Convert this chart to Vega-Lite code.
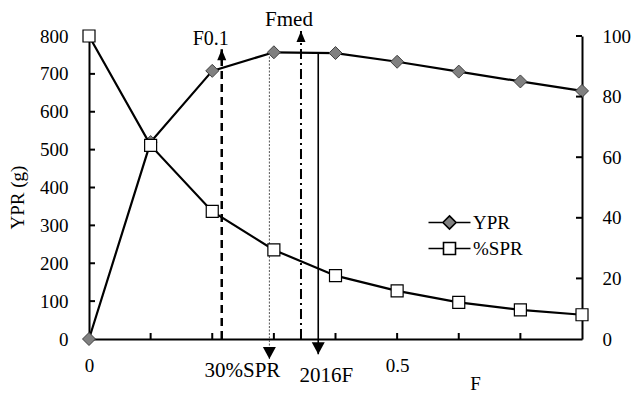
{
  "$schema": "https://vega.github.io/schema/vega-lite/v6.json",
  "width": 493,
  "height": 303,
  "autosize": "none",
  "padding": {"left": 89, "top": 36, "right": 53, "bottom": 55},
  "background": "white",
  "config": {
    "view": {"stroke": null},
    "font": "Liberation Serif",
    "axis": {
      "labelFont": "Liberation Serif",
      "titleFont": "Liberation Serif",
      "labelColor": "black",
      "titleColor": "black",
      "domainColor": "black",
      "tickColor": "black",
      "grid": false,
      "domainWidth": 2,
      "labelFontSize": 19,
      "titleFontSize": 19,
      "titleFontWeight": "normal"
    },
    "legend": {
      "orient": "none",
      "padding": 0,
      "labelFont": "Liberation Serif",
      "labelFontSize": 19,
      "labelColor": "black",
      "symbolSize": 144,
      "symbolStrokeColor": "black",
      "symbolStrokeWidth": 1.6,
      "labelOffset": 14
    }
  },
  "datasets": {
    "curves": [
      {"F": 0.0, "series": "YPR", "value": 0},
      {"F": 0.1, "series": "YPR", "value": 520},
      {"F": 0.2, "series": "YPR", "value": 708},
      {"F": 0.3, "series": "YPR", "value": 757},
      {"F": 0.4, "series": "YPR", "value": 755},
      {"F": 0.5, "series": "YPR", "value": 732},
      {"F": 0.6, "series": "YPR", "value": 706},
      {"F": 0.7, "series": "YPR", "value": 680},
      {"F": 0.8, "series": "YPR", "value": 655},
      {"F": 0.0, "series": "%SPR", "value": 100},
      {"F": 0.1, "series": "%SPR", "value": 63.9},
      {"F": 0.2, "series": "%SPR", "value": 42.1},
      {"F": 0.3, "series": "%SPR", "value": 29.4},
      {"F": 0.4, "series": "%SPR", "value": 20.9},
      {"F": 0.5, "series": "%SPR", "value": 15.9},
      {"F": 0.6, "series": "%SPR", "value": 12.1},
      {"F": 0.7, "series": "%SPR", "value": 9.6},
      {"F": 0.8, "series": "%SPR", "value": 8.0}
    ],
    "refs": [
      {"name": "F0.1", "F": 0.2154, "from": 0, "to": 765},
      {"name": "30%SPR", "F": 0.2927, "from": 755, "to": -53},
      {"name": "Fmed", "F": 0.344, "from": 0, "to": 813},
      {"name": "2016F", "F": 0.372, "from": 756, "to": -40}
    ],
    "xticks": [{"F": 0.1}, {"F": 0.2}, {"F": 0.3}, {"F": 0.4}, {"F": 0.5}, {"F": 0.6}, {"F": 0.7}],
    "lticks": [{"v": 100}, {"v": 200}, {"v": 300}, {"v": 400}, {"v": 500}, {"v": 600}, {"v": 700}, {"v": 800}],
    "rticks": [{"v": 20}, {"v": 40}, {"v": 60}, {"v": 80}, {"v": 100}]
  },
  "layer": [
    {
      "data": {"name": "curves"},
      "transform": [{"filter": "datum.series === 'YPR'"}],
      "layer": [
        {
          "mark": {"type": "line", "color": "black", "strokeWidth": 2.2},
          "encoding": {
            "x": {"field": "F", "type": "quantitative", "scale": {"domain": [0, 0.8], "nice": false},
              "axis": {"orient": "bottom", "values": [0, 0.5], "format": "~g", "ticks": false, "labelPadding": 17, "labelFlush": false, "labelOverlap": false, "title": "F", "titleX": 386, "titleY": 44, "titleBaseline": "middle", "titleAlign": "center"}},
            "y": {"field": "value", "type": "quantitative", "scale": {"domain": [0, 800], "nice": false},
              "axis": {"orient": "left", "values": [0, 100, 200, 300, 400, 500, 600, 700, 800], "tickCount": 9, "ticks": false, "labelPadding": 21, "labelFlush": false, "labelOverlap": false, "title": "YPR (g)", "titleX": -72, "titleY": 161, "titleAngle": -90, "titleBaseline": "middle", "titleAlign": "center"}}
          }
        },
        {
          "mark": {"type": "point", "shape": "diamond", "filled": true, "size": 169, "stroke": "#404040", "strokeWidth": 1, "opacity": 1},
          "encoding": {
            "x": {"field": "F", "type": "quantitative", "scale": {"domain": [0, 0.8], "nice": false},
              "axis": {"orient": "bottom", "values": [0, 0.5], "format": "~g", "ticks": false, "labelPadding": 17, "labelFlush": false, "labelOverlap": false, "title": "F", "titleX": 386, "titleY": 44, "titleBaseline": "middle", "titleAlign": "center"}},
            "y": {"field": "value", "type": "quantitative", "scale": {"domain": [0, 800], "nice": false},
              "axis": {"orient": "left", "values": [0, 100, 200, 300, 400, 500, 600, 700, 800], "tickCount": 9, "ticks": false, "labelPadding": 21, "labelFlush": false, "labelOverlap": false, "title": "YPR (g)", "titleX": -72, "titleY": 161, "titleAngle": -90, "titleBaseline": "middle", "titleAlign": "center"}},
            "fill": {
              "field": "series", "type": "nominal",
              "scale": {"domain": ["YPR"], "range": ["#808080"]},
              "legend": {"title": null, "symbolType": "M-3.5,0H-1.1M1.1,0H3.5M0,-1.1L1.1,0L0,1.1L-1.1,0Z", "legendX": 351, "legendY": 177}
            }
          }
        },
        {
          "data": {"name": "xticks"},
          "mark": {"type": "point", "filled": true, "color": "black", "opacity": 1, "size": 4, "shape": "M-1,0H1V-6H-1Z"},
          "encoding": {
            "x": {"field": "F", "type": "quantitative", "scale": {"domain": [0, 0.8], "nice": false},
              "axis": {"orient": "bottom", "values": [0, 0.5], "format": "~g", "ticks": false, "labelPadding": 17, "labelFlush": false, "labelOverlap": false, "title": "F", "titleX": 386, "titleY": 44, "titleBaseline": "middle", "titleAlign": "center"}},
            "y": {"datum": 0, "type": "quantitative", "scale": {"domain": [0, 800], "nice": false},
              "axis": {"orient": "left", "values": [0, 100, 200, 300, 400, 500, 600, 700, 800], "tickCount": 9, "ticks": false, "labelPadding": 21, "labelFlush": false, "labelOverlap": false, "title": "YPR (g)", "titleX": -72, "titleY": 161, "titleAngle": -90, "titleBaseline": "middle", "titleAlign": "center"}}
          }
        },
        {
          "data": {"name": "lticks"},
          "mark": {"type": "point", "filled": true, "color": "black", "opacity": 1, "size": 4, "shape": "M0,-1H6V1H0Z"},
          "encoding": {
            "x": {"datum": 0, "type": "quantitative", "scale": {"domain": [0, 0.8], "nice": false},
              "axis": {"orient": "bottom", "values": [0, 0.5], "format": "~g", "ticks": false, "labelPadding": 17, "labelFlush": false, "labelOverlap": false, "title": "F", "titleX": 386, "titleY": 44, "titleBaseline": "middle", "titleAlign": "center"}},
            "y": {"field": "v", "type": "quantitative", "scale": {"domain": [0, 800], "nice": false},
              "axis": {"orient": "left", "values": [0, 100, 200, 300, 400, 500, 600, 700, 800], "tickCount": 9, "ticks": false, "labelPadding": 21, "labelFlush": false, "labelOverlap": false, "title": "YPR (g)", "titleX": -72, "titleY": 161, "titleAngle": -90, "titleBaseline": "middle", "titleAlign": "center"}}
          }
        },
        {
          "data": {"name": "refs"},
          "transform": [{"filter": "datum.name === 'F0.1'"}],
          "mark": {"type": "rule", "color": "black", "strokeWidth": 2.5, "strokeDash": [8, 5]},
          "encoding": {
            "x": {"field": "F", "type": "quantitative", "scale": {"domain": [0, 0.8], "nice": false},
              "axis": {"orient": "bottom", "values": [0, 0.5], "format": "~g", "ticks": false, "labelPadding": 17, "labelFlush": false, "labelOverlap": false, "title": "F", "titleX": 386, "titleY": 44, "titleBaseline": "middle", "titleAlign": "center"}},
            "y": {"field": "from", "type": "quantitative", "scale": {"domain": [0, 800], "nice": false},
              "axis": {"orient": "left", "values": [0, 100, 200, 300, 400, 500, 600, 700, 800], "tickCount": 9, "ticks": false, "labelPadding": 21, "labelFlush": false, "labelOverlap": false, "title": "YPR (g)", "titleX": -72, "titleY": 161, "titleAngle": -90, "titleBaseline": "middle", "titleAlign": "center"}},
            "y2": {"field": "to"}
          }
        },
        {
          "data": {"name": "refs"},
          "transform": [{"filter": "datum.name === '30%SPR'"}],
          "mark": {"type": "rule", "color": "#555555", "strokeWidth": 1, "strokeDash": [2, 1.5]},
          "encoding": {
            "x": {"field": "F", "type": "quantitative", "scale": {"domain": [0, 0.8], "nice": false},
              "axis": {"orient": "bottom", "values": [0, 0.5], "format": "~g", "ticks": false, "labelPadding": 17, "labelFlush": false, "labelOverlap": false, "title": "F", "titleX": 386, "titleY": 44, "titleBaseline": "middle", "titleAlign": "center"}},
            "y": {"field": "from", "type": "quantitative", "scale": {"domain": [0, 800], "nice": false},
              "axis": {"orient": "left", "values": [0, 100, 200, 300, 400, 500, 600, 700, 800], "tickCount": 9, "ticks": false, "labelPadding": 21, "labelFlush": false, "labelOverlap": false, "title": "YPR (g)", "titleX": -72, "titleY": 161, "titleAngle": -90, "titleBaseline": "middle", "titleAlign": "center"}},
            "y2": {"field": "to"}
          }
        },
        {
          "data": {"name": "refs"},
          "transform": [{"filter": "datum.name === 'Fmed'"}],
          "mark": {"type": "rule", "color": "black", "strokeWidth": 2, "strokeDash": [10, 4, 2, 4]},
          "encoding": {
            "x": {"field": "F", "type": "quantitative", "scale": {"domain": [0, 0.8], "nice": false},
              "axis": {"orient": "bottom", "values": [0, 0.5], "format": "~g", "ticks": false, "labelPadding": 17, "labelFlush": false, "labelOverlap": false, "title": "F", "titleX": 386, "titleY": 44, "titleBaseline": "middle", "titleAlign": "center"}},
            "y": {"field": "from", "type": "quantitative", "scale": {"domain": [0, 800], "nice": false},
              "axis": {"orient": "left", "values": [0, 100, 200, 300, 400, 500, 600, 700, 800], "tickCount": 9, "ticks": false, "labelPadding": 21, "labelFlush": false, "labelOverlap": false, "title": "YPR (g)", "titleX": -72, "titleY": 161, "titleAngle": -90, "titleBaseline": "middle", "titleAlign": "center"}},
            "y2": {"field": "to"}
          }
        },
        {
          "data": {"name": "refs"},
          "transform": [{"filter": "datum.name === '2016F'"}],
          "mark": {"type": "rule", "color": "black", "strokeWidth": 1.6},
          "encoding": {
            "x": {"field": "F", "type": "quantitative", "scale": {"domain": [0, 0.8], "nice": false},
              "axis": {"orient": "bottom", "values": [0, 0.5], "format": "~g", "ticks": false, "labelPadding": 17, "labelFlush": false, "labelOverlap": false, "title": "F", "titleX": 386, "titleY": 44, "titleBaseline": "middle", "titleAlign": "center"}},
            "y": {"field": "from", "type": "quantitative", "scale": {"domain": [0, 800], "nice": false},
              "axis": {"orient": "left", "values": [0, 100, 200, 300, 400, 500, 600, 700, 800], "tickCount": 9, "ticks": false, "labelPadding": 21, "labelFlush": false, "labelOverlap": false, "title": "YPR (g)", "titleX": -72, "titleY": 161, "titleAngle": -90, "titleBaseline": "middle", "titleAlign": "center"}},
            "y2": {"field": "to"}
          }
        },
        {
          "data": {"name": "refs"},
          "transform": [{"filter": "datum.name === 'F0.1' || datum.name === 'Fmed'"}],
          "mark": {"type": "point", "filled": true, "color": "black", "opacity": 1, "size": 4, "shape": "M0,0L4.5,11L-4.5,11Z"},
          "encoding": {
            "x": {"field": "F", "type": "quantitative", "scale": {"domain": [0, 0.8], "nice": false},
              "axis": {"orient": "bottom", "values": [0, 0.5], "format": "~g", "ticks": false, "labelPadding": 17, "labelFlush": false, "labelOverlap": false, "title": "F", "titleX": 386, "titleY": 44, "titleBaseline": "middle", "titleAlign": "center"}},
            "y": {"field": "to", "type": "quantitative", "scale": {"domain": [0, 800], "nice": false},
              "axis": {"orient": "left", "values": [0, 100, 200, 300, 400, 500, 600, 700, 800], "tickCount": 9, "ticks": false, "labelPadding": 21, "labelFlush": false, "labelOverlap": false, "title": "YPR (g)", "titleX": -72, "titleY": 161, "titleAngle": -90, "titleBaseline": "middle", "titleAlign": "center"}}
          }
        },
        {
          "data": {"name": "refs"},
          "transform": [{"filter": "datum.name === '30%SPR' || datum.name === '2016F'"}],
          "mark": {"type": "point", "filled": true, "color": "black", "opacity": 1, "size": 4, "shape": "M0,0L6.5,-12L-6.5,-12Z"},
          "encoding": {
            "x": {"field": "F", "type": "quantitative", "scale": {"domain": [0, 0.8], "nice": false},
              "axis": {"orient": "bottom", "values": [0, 0.5], "format": "~g", "ticks": false, "labelPadding": 17, "labelFlush": false, "labelOverlap": false, "title": "F", "titleX": 386, "titleY": 44, "titleBaseline": "middle", "titleAlign": "center"}},
            "y": {"field": "to", "type": "quantitative", "scale": {"domain": [0, 800], "nice": false},
              "axis": {"orient": "left", "values": [0, 100, 200, 300, 400, 500, 600, 700, 800], "tickCount": 9, "ticks": false, "labelPadding": 21, "labelFlush": false, "labelOverlap": false, "title": "YPR (g)", "titleX": -72, "titleY": 161, "titleAngle": -90, "titleBaseline": "middle", "titleAlign": "center"}}
          }
        },
        {
          "data": {"name": "refs"},
          "transform": [{"filter": "datum.name === 'F0.1'"}],
          "mark": {"type": "text", "font": "Liberation Serif", "fontSize": 20, "align": "center", "baseline": "alphabetic", "dx": -11, "dy": -4, "color": "black"},
          "encoding": {
            "x": {"field": "F", "type": "quantitative", "scale": {"domain": [0, 0.8], "nice": false},
              "axis": {"orient": "bottom", "values": [0, 0.5], "format": "~g", "ticks": false, "labelPadding": 17, "labelFlush": false, "labelOverlap": false, "title": "F", "titleX": 386, "titleY": 44, "titleBaseline": "middle", "titleAlign": "center"}},
            "y": {"field": "to", "type": "quantitative", "scale": {"domain": [0, 800], "nice": false},
              "axis": {"orient": "left", "values": [0, 100, 200, 300, 400, 500, 600, 700, 800], "tickCount": 9, "ticks": false, "labelPadding": 21, "labelFlush": false, "labelOverlap": false, "title": "YPR (g)", "titleX": -72, "titleY": 161, "titleAngle": -90, "titleBaseline": "middle", "titleAlign": "center"}},
            "text": {"field": "name"}
          }
        },
        {
          "data": {"name": "refs"},
          "transform": [{"filter": "datum.name === 'Fmed'"}],
          "mark": {"type": "text", "font": "Liberation Serif", "fontSize": 21, "align": "center", "baseline": "alphabetic", "dx": -12, "dy": -5, "color": "black"},
          "encoding": {
            "x": {"field": "F", "type": "quantitative", "scale": {"domain": [0, 0.8], "nice": false},
              "axis": {"orient": "bottom", "values": [0, 0.5], "format": "~g", "ticks": false, "labelPadding": 17, "labelFlush": false, "labelOverlap": false, "title": "F", "titleX": 386, "titleY": 44, "titleBaseline": "middle", "titleAlign": "center"}},
            "y": {"field": "to", "type": "quantitative", "scale": {"domain": [0, 800], "nice": false},
              "axis": {"orient": "left", "values": [0, 100, 200, 300, 400, 500, 600, 700, 800], "tickCount": 9, "ticks": false, "labelPadding": 21, "labelFlush": false, "labelOverlap": false, "title": "YPR (g)", "titleX": -72, "titleY": 161, "titleAngle": -90, "titleBaseline": "middle", "titleAlign": "center"}},
            "text": {"field": "name"}
          }
        },
        {
          "data": {"name": "refs"},
          "transform": [{"filter": "datum.name === '30%SPR'"}],
          "mark": {"type": "text", "font": "Liberation Serif", "fontSize": 21, "align": "center", "baseline": "alphabetic", "dx": -27, "dy": 18, "color": "black"},
          "encoding": {
            "x": {"field": "F", "type": "quantitative", "scale": {"domain": [0, 0.8], "nice": false},
              "axis": {"orient": "bottom", "values": [0, 0.5], "format": "~g", "ticks": false, "labelPadding": 17, "labelFlush": false, "labelOverlap": false, "title": "F", "titleX": 386, "titleY": 44, "titleBaseline": "middle", "titleAlign": "center"}},
            "y": {"field": "to", "type": "quantitative", "scale": {"domain": [0, 800], "nice": false},
              "axis": {"orient": "left", "values": [0, 100, 200, 300, 400, 500, 600, 700, 800], "tickCount": 9, "ticks": false, "labelPadding": 21, "labelFlush": false, "labelOverlap": false, "title": "YPR (g)", "titleX": -72, "titleY": 161, "titleAngle": -90, "titleBaseline": "middle", "titleAlign": "center"}},
            "text": {"field": "name"}
          }
        },
        {
          "data": {"name": "refs"},
          "transform": [{"filter": "datum.name === '2016F'"}],
          "mark": {"type": "text", "font": "Liberation Serif", "fontSize": 21, "align": "center", "baseline": "alphabetic", "dx": 8, "dy": 28, "color": "black"},
          "encoding": {
            "x": {"field": "F", "type": "quantitative", "scale": {"domain": [0, 0.8], "nice": false},
              "axis": {"orient": "bottom", "values": [0, 0.5], "format": "~g", "ticks": false, "labelPadding": 17, "labelFlush": false, "labelOverlap": false, "title": "F", "titleX": 386, "titleY": 44, "titleBaseline": "middle", "titleAlign": "center"}},
            "y": {"field": "to", "type": "quantitative", "scale": {"domain": [0, 800], "nice": false},
              "axis": {"orient": "left", "values": [0, 100, 200, 300, 400, 500, 600, 700, 800], "tickCount": 9, "ticks": false, "labelPadding": 21, "labelFlush": false, "labelOverlap": false, "title": "YPR (g)", "titleX": -72, "titleY": 161, "titleAngle": -90, "titleBaseline": "middle", "titleAlign": "center"}},
            "text": {"field": "name"}
          }
        }
      ]
    },
    {
      "data": {"name": "curves"},
      "transform": [{"filter": "datum.series === '%SPR'"}],
      "layer": [
        {
          "mark": {"type": "line", "color": "black", "strokeWidth": 2.2},
          "encoding": {
            "x": {"field": "F", "type": "quantitative", "scale": {"domain": [0, 0.8], "nice": false}, "axis": null},
            "y": {"field": "value", "type": "quantitative", "scale": {"domain": [0, 100], "nice": false},
              "axis": {"orient": "right", "values": [0, 20, 40, 60, 80, 100], "tickCount": 6, "ticks": false, "labelPadding": 20, "labelAlign": "left", "labelFlush": false, "labelOverlap": false, "title": null}}
          }
        },
        {
          "mark": {"type": "point", "shape": "square", "filled": true, "size": 144, "stroke": "black", "strokeWidth": 1.2, "opacity": 1},
          "encoding": {
            "x": {"field": "F", "type": "quantitative", "scale": {"domain": [0, 0.8], "nice": false}, "axis": null},
            "y": {"field": "value", "type": "quantitative", "scale": {"domain": [0, 100], "nice": false},
              "axis": {"orient": "right", "values": [0, 20, 40, 60, 80, 100], "tickCount": 6, "ticks": false, "labelPadding": 20, "labelAlign": "left", "labelFlush": false, "labelOverlap": false, "title": null}},
            "fill": {
              "field": "series", "type": "nominal",
              "scale": {"domain": ["%SPR"], "range": ["#ffffff"]},
              "legend": {"title": null, "symbolType": "M-3.5,0H-1M1,0H3.5M-1,-1H1V1H-1Z", "legendX": 351, "legendY": 203}
            }
          }
        },
        {
          "data": {"name": "rticks"},
          "mark": {"type": "point", "filled": true, "color": "black", "opacity": 1, "size": 4, "shape": "M0,-1H-6V1H0Z"},
          "encoding": {
            "x": {"datum": 0.8, "type": "quantitative", "scale": {"domain": [0, 0.8], "nice": false}, "axis": null},
            "y": {"field": "v", "type": "quantitative", "scale": {"domain": [0, 100], "nice": false},
              "axis": {"orient": "right", "values": [0, 20, 40, 60, 80, 100], "tickCount": 6, "ticks": false, "labelPadding": 20, "labelAlign": "left", "labelFlush": false, "labelOverlap": false, "title": null}}
          }
        }
      ]
    }
  ],
  "resolve": {
    "scale": {"x": "independent", "y": "independent", "fill": "independent"},
    "legend": {"fill": "independent"}
  }
}
